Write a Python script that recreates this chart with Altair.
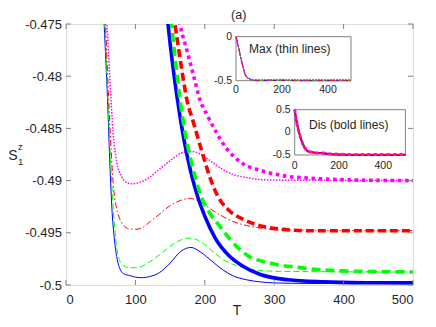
import altair as alt
import pandas as pd

# ---------------- data ----------------
# Main panel, thin lines ("Max")
T_MAX_BLUE = [45, 50, 55, 60, 63, 66, 70, 74, 78, 84, 92, 100, 110, 120, 135, 150, 165, 180, 195, 210, 225, 240, 260, 280, 300, 350, 400, 500]
V_MAX_BLUE = [-0.457, -0.467, -0.475, -0.4825, -0.4880, -0.4925, -0.4958, -0.4976, -0.4985, -0.49895, -0.4991, -0.49925, -0.4993,
              -0.4992, -0.4988, -0.4979, -0.4968, -0.4964, -0.4969, -0.4977, -0.4985, -0.4991, -0.4995, -0.4997, -0.4998,
              -0.49985, -0.49985, -0.49985]

T_MAX_GREEN = [45, 50, 56, 60, 64, 68, 72, 76, 82, 90, 100, 110, 120, 135, 150, 165, 180, 195, 210, 225, 240, 260, 280, 300, 350, 500]
V_MAX_GREEN = [-0.456, -0.466, -0.475, -0.4815, -0.4878, -0.4925, -0.4958, -0.4974, -0.4981, -0.49833, -0.49835, -0.4982,
               -0.4978, -0.4971, -0.4963, -0.4957, -0.4955, -0.4959, -0.4967, -0.4975, -0.4980, -0.4984, -0.4986, -0.49868,
               -0.49872, -0.49875]

T_MAX_RED = [45, 50, 57, 61, 65, 68, 72, 77, 82, 90, 100, 110, 120, 135, 150, 165, 178, 195, 210, 225, 240, 260, 280, 300, 350, 500]
V_MAX_RED = [-0.455, -0.465, -0.475, -0.4815, -0.4870, -0.4903, -0.4924, -0.4936, -0.4942, -0.4946, -0.49467, -0.4945, -0.4940,
             -0.4932, -0.4924, -0.4919, -0.4917, -0.4921, -0.4928, -0.4934, -0.4939, -0.4943, -0.49455, -0.4947, -0.49475, -0.4948]

T_MAX_MAG = [45, 50, 55, 59, 63, 68, 73, 80, 88, 95, 105, 120, 135, 150, 165, 180, 195, 210, 225, 240, 260, 280, 300, 500]
V_MAX_MAG = [-0.455, -0.464, -0.4705, -0.475, -0.4800, -0.4855, -0.4882, -0.4896, -0.4902, -0.4903, -0.4902, -0.4897, -0.4889,
             -0.4881, -0.4874, -0.4872, -0.4875, -0.4882, -0.4889, -0.4894, -0.4897, -0.4899, -0.48995, -0.4900]

# Main panel, bold lines ("Dis")
T_DIS_BLUE = [130, 147, 160, 170, 180, 190, 200, 215, 235, 255, 280, 320, 370, 430, 500]
V_DIS_BLUE = [-0.4615, -0.4750, -0.4820, -0.4861, -0.4892, -0.4916, -0.4934, -0.4955, -0.4972, -0.4982, -0.4990, -0.4995,
              -0.4997, -0.49978, -0.4998]

T_DIS_GREEN = [135, 152, 168, 182, 196, 207, 222, 236, 260, 294, 332, 380, 430, 500]
V_DIS_GREEN = [-0.4625, -0.4750, -0.4840, -0.4886, -0.4917, -0.4931, -0.4944, -0.4956, -0.4971, -0.4979, -0.4983, -0.4986,
               -0.4987, -0.49875]

T_DIS_RED = [140, 157, 166, 174, 183, 190, 198, 207, 218, 234, 255, 284, 313, 350, 420, 500]
V_DIS_RED = [-0.4660, -0.4750, -0.4790, -0.4822, -0.4843, -0.4859, -0.4877, -0.4896, -0.4914, -0.4928, -0.4937, -0.4944,
             -0.49467, -0.4948, -0.4948, -0.4948]

T_DIS_MAG = [145, 164, 175, 184, 193, 204, 215, 230, 251, 284, 318, 360, 420, 500]
V_DIS_MAG = [-0.4665, -0.4750, -0.4777, -0.4800, -0.48225, -0.4838, -0.4852, -0.4868, -0.4882, -0.4891, -0.48958, -0.4898,
             -0.48995, -0.4900]

# Inset "Max (thin lines)"
T_IN_MAX = [0, 10, 20, 30, 40, 50, 60, 70, 80, 100, 150, 200, 300, 400, 500]
V_IN_MAX_BLUE = [0, -0.11, -0.23, -0.34, -0.43, -0.467, -0.4825, -0.4958, -0.4987, -0.4992, -0.4979, -0.4972, -0.4998, -0.49985, -0.49985]
V_IN_MAX_GREEN = [0, -0.11, -0.23, -0.34, -0.43, -0.466, -0.4815, -0.4950, -0.4980, -0.49835, -0.4963, -0.4962, -0.49868, -0.49872, -0.49875]
V_IN_MAX_RED = [0, -0.11, -0.23, -0.34, -0.43, -0.465, -0.4805, -0.4930, -0.4940, -0.4947, -0.4924, -0.4923, -0.4947, -0.4948, -0.4948]
V_IN_MAX_MAG = [0, -0.11, -0.23, -0.34, -0.43, -0.464, -0.4780, -0.4890, -0.4896, -0.4903, -0.4881, -0.4877, -0.48995, -0.4900, -0.4900]

# Inset "Dis (bold lines)"
T_IN_DIS = [0, 10, 20, 30, 40, 50, 60, 80, 100, 130, 150, 170, 200, 300, 400, 500]
V_IN_DIS_BLUE = [0.5, 0.2, -0.01, -0.17, -0.29, -0.37, -0.42, -0.44, -0.455, -0.4615, -0.4765, -0.4861, -0.4934, -0.4996, -0.49978, -0.4998]
V_IN_DIS_GREEN = [0.5, 0.2, -0.01, -0.17, -0.29, -0.37, -0.42, -0.44, -0.455, -0.4600, -0.4735, -0.4842, -0.4921, -0.4981, -0.4987, -0.49875]
V_IN_DIS_RED = [0.5, 0.2, -0.01, -0.17, -0.29, -0.37, -0.42, -0.44, -0.455, -0.4580, -0.4700, -0.4820, -0.4877, -0.4946, -0.4948, -0.4948]
V_IN_DIS_MAG = [0.5, 0.2, -0.01, -0.17, -0.29, -0.37, -0.42, -0.44, -0.455, -0.4560, -0.4700, -0.4772, -0.4838, -0.4897, -0.4899, -0.4900]

TICKS_X = [0, 100, 200, 300, 400, 500]
TICKS_Y = [-0.5, -0.495, -0.49, -0.485, -0.48, -0.475]
IN_TICKS_X = [0, 200, 400]
IN_MAX_TICKS_Y = [-0.5, 0]
IN_DIS_TICKS_Y = [-0.5, 0, 0.5]

# ---------------- styling ----------------
W, H = 347, 261
FONT = "Liberation Sans"
FRAME = "#808080"
TXT = "#262626"
BLUE, GREEN, RED, MAG = "#0000ff", "#00ff00", "#ff0000", "#ff00ff"

THIN = 1.0
BOLD = 3.6
STY = {
    "blue_thin": dict(color=BLUE, strokeWidth=THIN),
    "green_thin": dict(color=GREEN, strokeWidth=THIN, strokeDash=[6, 3]),
    "red_thin": dict(color=RED, strokeWidth=THIN, strokeDash=[6, 2.5, 1.5, 2.5]),
    "mag_thin": dict(color=MAG, strokeWidth=1.5, strokeDash=[1.5, 1.5]),
    "blue_bold": dict(color=BLUE, strokeWidth=BOLD),
    "green_bold": dict(color=GREEN, strokeWidth=BOLD, strokeDash=[9, 5]),
    "red_bold": dict(color=RED, strokeWidth=BOLD, strokeDash=[8, 4]),
    "mag_bold": dict(color=MAG, strokeWidth=BOLD, strokeDash=[3.6, 3.6]),
    # inset "Dis" lines are drawn a little thinner in the reference
    "blue_in": dict(color=BLUE, strokeWidth=1.8),
    "green_in": dict(color=GREEN, strokeWidth=1.8, strokeDash=[6, 3]),
    "red_in": dict(color=RED, strokeWidth=1.8),
    "mag_in": dict(color=MAG, strokeWidth=3, strokeDash=[3, 3.5]),
}

xs = alt.Scale(domain=[0, 500], nice=False, zero=False)
ys = alt.Scale(domain=[-0.5, -0.475], nice=False, zero=False)
xaxis = alt.Axis(values=TICKS_X, title=None, ticks=False, tickSize=0, domain=False, grid=False,
                 labelFont=FONT, labelFontSize=13, labelColor=TXT, labelPadding=8)
yaxis = alt.Axis(values=TICKS_Y, title=None, ticks=False, tickSize=0, domain=False, grid=False,
                 labelFont=FONT, labelFontSize=13, labelColor=TXT, labelPadding=4.5,
                 labelExpr="'' + datum.value")


def X(): return alt.X("T:Q", scale=xs, axis=xaxis)
def Y(): return alt.Y("v:Q", scale=ys, axis=yaxis)


def main_line(T, V, style):
    df = pd.DataFrame({"T": T, "v": V})
    return alt.Chart(df).mark_line(clip=True, interpolate="monotone", **style).encode(x=X(), y=Y())


main_layers = [
    main_line(T_MAX_BLUE, V_MAX_BLUE, STY["blue_thin"]),
    main_line(T_MAX_GREEN, V_MAX_GREEN, STY["green_thin"]),
    main_line(T_MAX_RED, V_MAX_RED, STY["red_thin"]),
    main_line(T_MAX_MAG, V_MAX_MAG, STY["mag_thin"]),
    main_line(T_DIS_BLUE, V_DIS_BLUE, STY["blue_bold"]),
    main_line(T_DIS_GREEN, V_DIS_GREEN, STY["green_bold"]),
    main_line(T_DIS_RED, V_DIS_RED, STY["red_bold"]),
    main_line(T_DIS_MAG, V_DIS_MAG, STY["mag_bold"]),
]

tx = pd.DataFrame({"T": TICKS_X})
ty = pd.DataFrame({"v": TICKS_Y})
TL = 5
main_layers += [
    alt.Chart(tx).mark_rule(color=FRAME, strokeWidth=1).encode(x=X(), y=alt.value(H), y2=alt.value(H - TL)),
    alt.Chart(tx).mark_rule(color=FRAME, strokeWidth=1).encode(x=X(), y=alt.value(0), y2=alt.value(TL)),
    alt.Chart(ty).mark_rule(color=FRAME, strokeWidth=1).encode(y=Y(), x=alt.value(0), x2=alt.value(TL)),
    alt.Chart(ty).mark_rule(color=FRAME, strokeWidth=1).encode(y=Y(), x=alt.value(W), x2=alt.value(W - TL)),
]

one = pd.DataFrame({"a": [0]})


def label(text, x, y, size, align="center", baseline="alphabetic"):
    return alt.Chart(one).mark_text(text=text, font=FONT, fontSize=size, color=TXT, align=align,
                                    baseline=baseline).encode(x=alt.value(x), y=alt.value(y))


main_layers += [
    label("(a)", 172.7, -5.5, 12.5),
    label("T", 171, H + 29.5, 14),
    label("S", -57.8, 135.7, 14, align="left"),
    label("z", -48.0, 125.5, 9.5, align="left"),
    label("1", -48.0, 140.5, 9.5, align="left"),
]

main = alt.layer(*main_layers)


def inset(xr, yr, ydom, T, series, yticks, caption, cap_xy, xlab_y):
    sx = alt.Scale(domain=[0, 500], range=xr, nice=False, zero=False)
    sy = alt.Scale(domain=ydom, range=yr, nice=False, zero=False)
    box = pd.DataFrame({"x0": [0], "x1": [500], "y0": [ydom[0]], "y1": [ydom[1]]})
    layers = [
        alt.Chart(box).mark_rect(fill="white", stroke=FRAME, strokeWidth=1).encode(
            x=alt.X("x0:Q", scale=sx, axis=None), x2="x1:Q",
            y=alt.Y("y0:Q", scale=sy, axis=None), y2="y1:Q")
    ]
    for V, style in series:
        df = pd.DataFrame({"x0": T, "y0": V})
        layers.append(alt.Chart(df).mark_line(interpolate="monotone", **style).encode(
            x=alt.X("x0:Q", scale=sx, axis=None), y=alt.Y("y0:Q", scale=sy, axis=None)))
    layers.append(alt.Chart(pd.DataFrame({"x0": IN_TICKS_X})).mark_text(
        font=FONT, fontSize=10.5, color=TXT, baseline="middle").encode(
        x=alt.X("x0:Q", scale=sx, axis=None), y=alt.value(xlab_y), text="x0:Q"))
    layers.append(alt.Chart(pd.DataFrame({"y0": yticks, "lab": [str(v) for v in yticks]})).mark_text(
        font=FONT, fontSize=10.5, color=TXT, baseline="middle", align="right").encode(
        y=alt.Y("y0:Q", scale=sy, axis=None), x=alt.value(xr[0] - 4), text="lab:N"))
    layers.append(label(caption, cap_xy[0], cap_xy[1], 12, baseline="middle"))
    return alt.layer(*layers)


inset_max = inset([170, 285], [56.7, 12.7], [-0.5, 0], T_IN_MAX,
                  [(V_IN_MAX_BLUE, STY["blue_thin"]), (V_IN_MAX_GREEN, STY["green_thin"]),
                   (V_IN_MAX_RED, STY["red_thin"]), (V_IN_MAX_MAG, STY["mag_thin"])],
                  IN_MAX_TICKS_Y, "Max (thin lines)", (223.7, 24.7), 65.7)

inset_dis = inset([228.7, 339.4], [131, 85.7], [-0.5, 0.5], T_IN_DIS,
                  [(V_IN_DIS_GREEN, STY["green_in"]), (V_IN_DIS_BLUE, STY["blue_in"]),
                   (V_IN_DIS_RED, STY["red_in"]), (V_IN_DIS_MAG, STY["mag_in"])],
                  IN_DIS_TICKS_Y, "Dis (bold lines)", (282.7, 100.7), 142.4)

chart = alt.layer(main, inset_max, inset_dis).resolve_scale(
    x="independent", y="independent"
).properties(
    width=W, height=H,
    autosize=alt.AutoSizeParams(type="none"),
    padding={"left": 58, "top": 16, "right": 15, "bottom": 32},
).configure_view(stroke=FRAME, strokeWidth=1).configure(background="white")

chart.save("out.html", embed_options={"renderer": "svg", "actions": False})
